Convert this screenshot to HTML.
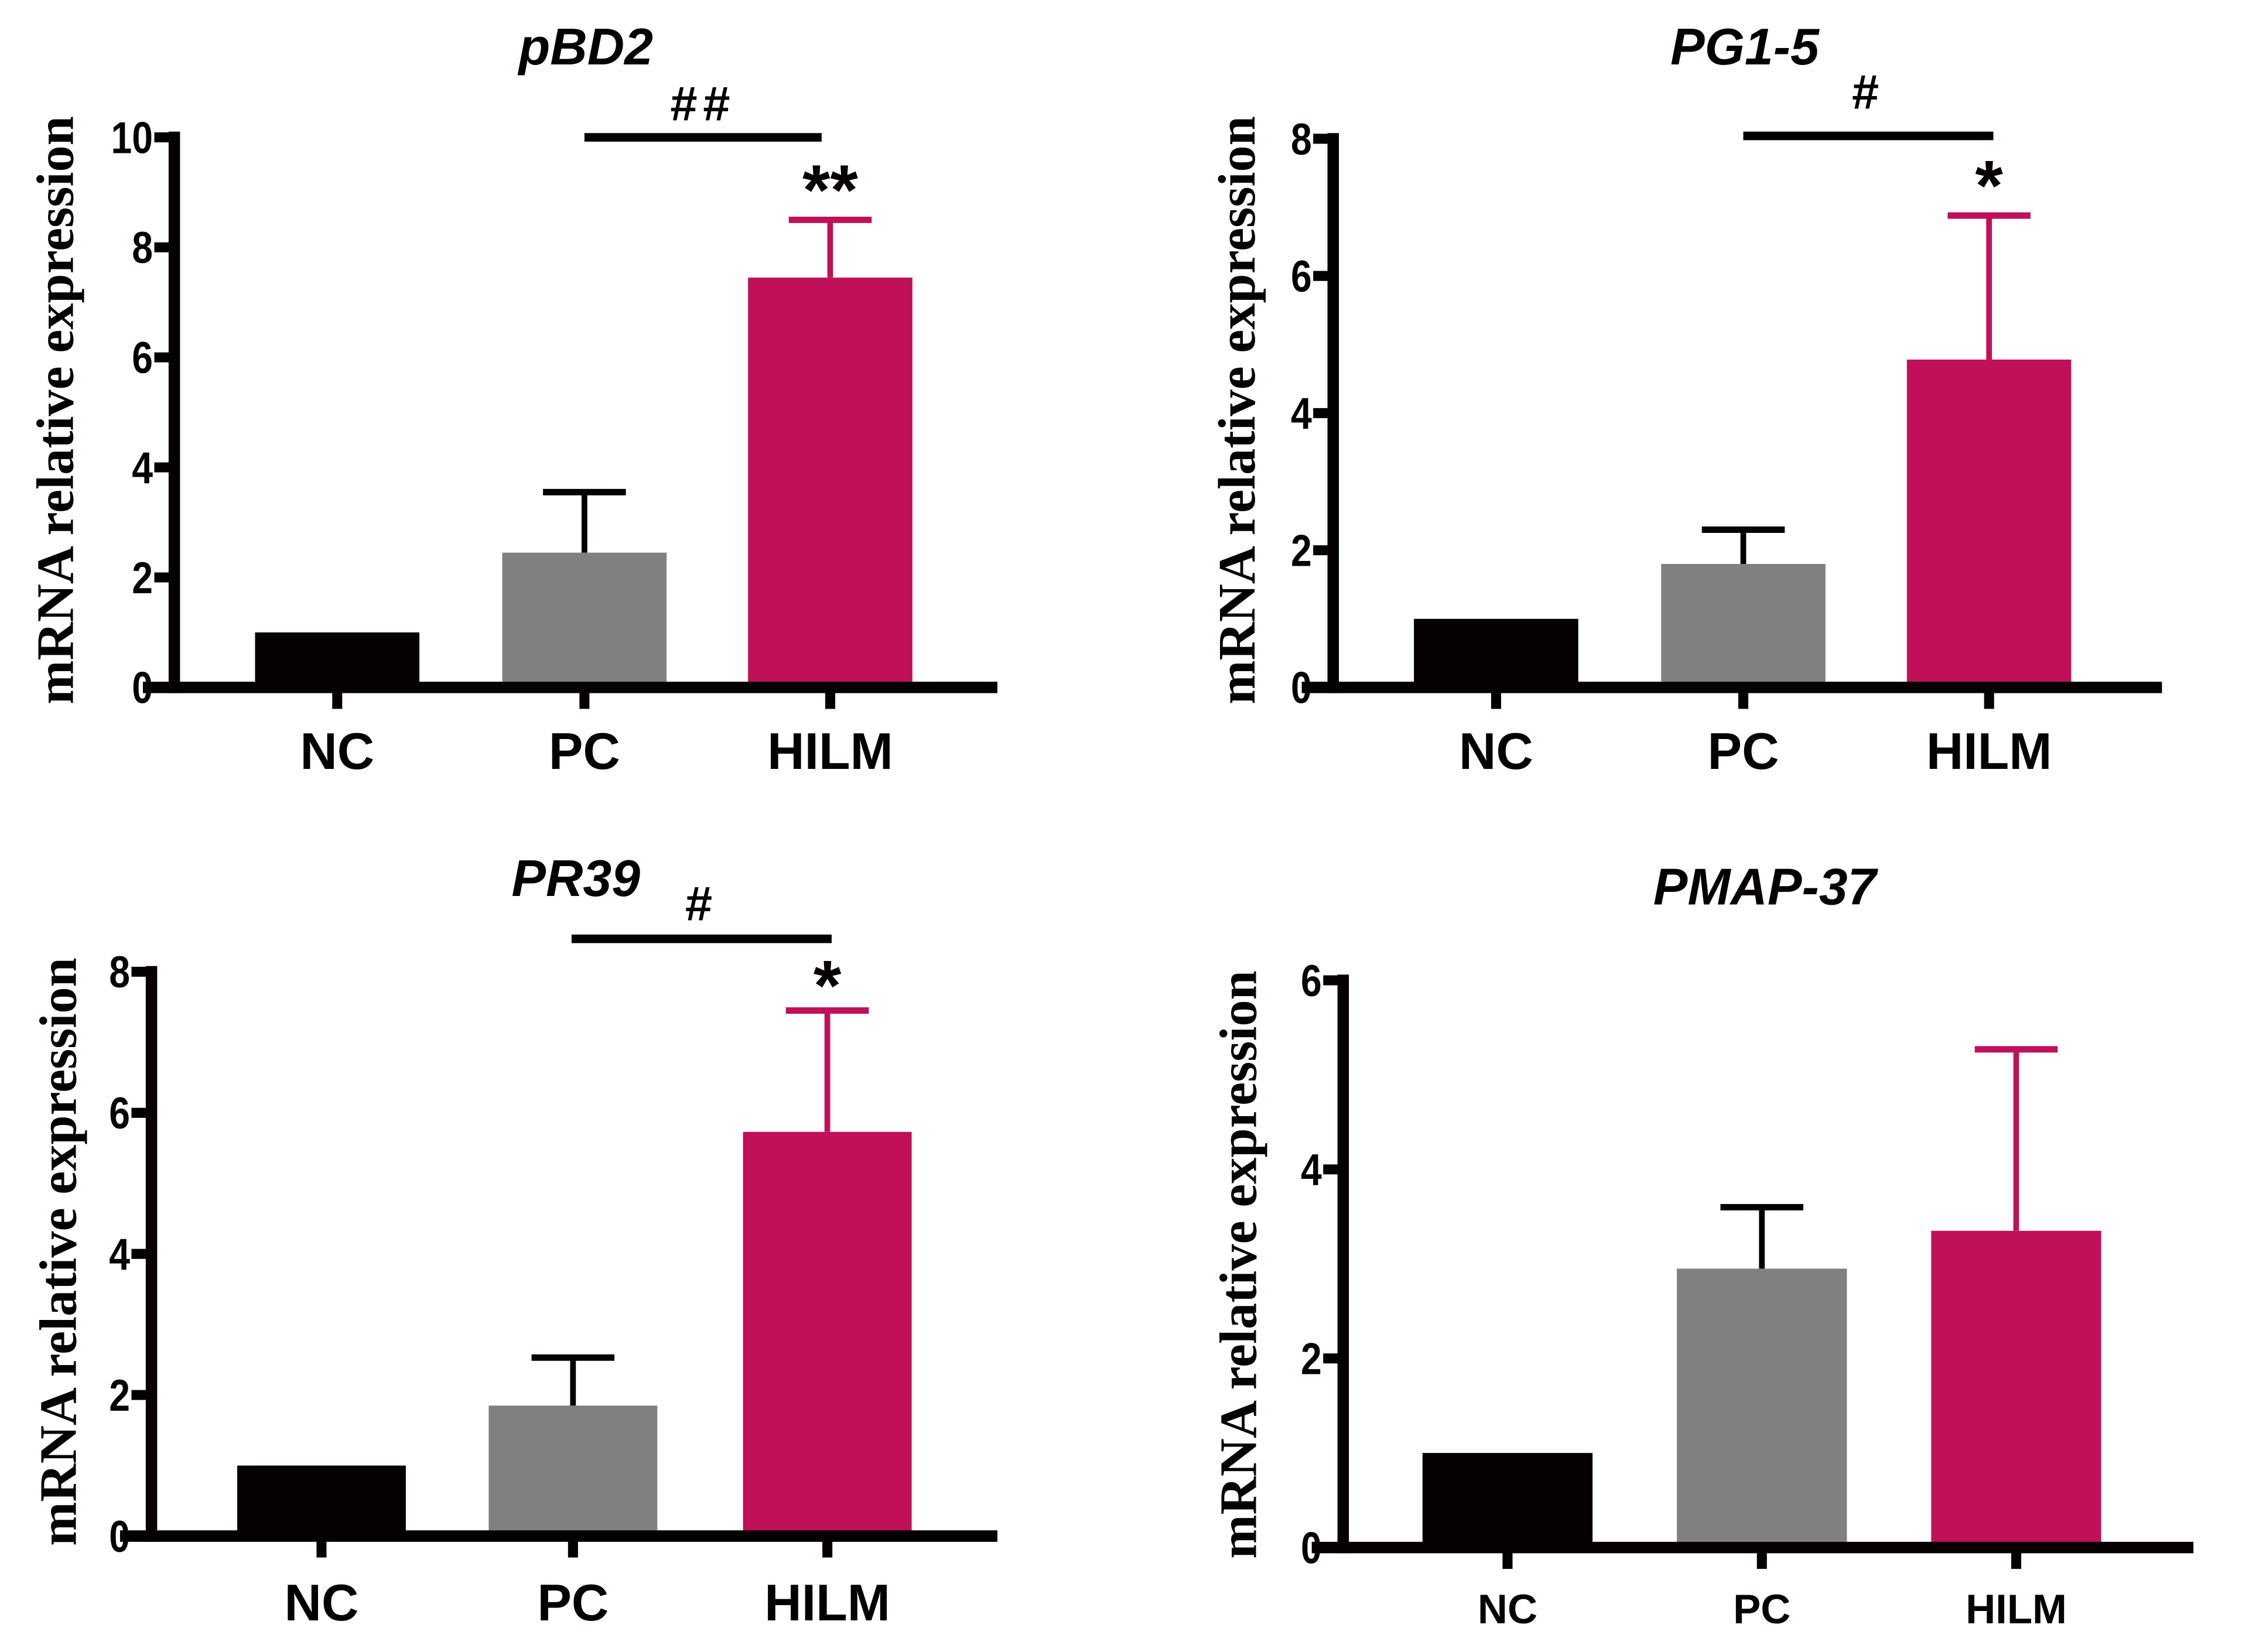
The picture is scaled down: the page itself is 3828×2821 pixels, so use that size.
<!DOCTYPE html>
<html><head><meta charset="utf-8"><style>
html,body{margin:0;padding:0;background:#fff;}
svg{display:block;}
.tick{font-family:"Liberation Sans",sans-serif;font-weight:bold;font-size:31px;}
.xl{font-family:"Liberation Sans",sans-serif;font-weight:bold;}
.yt{font-family:"Liberation Serif",serif;font-weight:bold;font-size:37px;}
.ti{font-family:"Liberation Sans",sans-serif;font-weight:bold;font-style:italic;font-size:36px;}
.sig{font-family:"Liberation Sans",sans-serif;font-weight:bold;}
</style></head><body>
<svg id="fig" width="3828" height="2821" viewBox="0 0 1569 1156" xmlns="http://www.w3.org/2000/svg"></svg>
<script>
const categories = ["NC","PC","HILM"];
const titles = ["pBD2","PG1-5","PR39","PMAP-37"];
const means_pBD2 = [1, 2.45, 7.45];
const errs_pBD2 = [0, 1.1, 1.05];
const ticks_pBD2 = [0,2,4,6,8,10];
const means_PG15 = [1, 1.8, 4.78];
const errs_PG15 = [0, 0.5, 2.1];
const ticks_PG15 = [0,2,4,6,8];
const means_PR39 = [1, 1.85, 5.73];
const errs_PR39 = [0, 0.68, 1.72];
const ticks_PR39 = [0,2,4,6,8];
const means_PMAP = [1, 2.95, 3.35];
const errs_PMAP = [0, 0.65, 1.92];
const ticks_PMAP = [0,2,4,6];
const sigStars = ["**","*","*",""];
const sigHash = ["##","#","#",""];

const colors = ["#050102","#808083","#c0105a"];
const errColors = ["#050102","#050102","#c0105a"];
const svg = document.getElementById('fig');
const NS = "http://www.w3.org/2000/svg";
function mk(tag, attrs, parent){
  const e = document.createElementNS(NS, tag);
  for (const k in attrs) e.setAttribute(k, attrs[k]);
  (parent||svg).appendChild(e);
  return e;
}
const layouts = [
  {ax:122, y0:481, ytop:96, xend:698, cx:[236,409,581], bw:115, xlY:538, xlF:36, ytX:38, ytY:287, tX:410, tY:45, brY:96, brX:[409,575], hashY:84, hashF:34, starY:150, starF:50},
  {ax:933, y0:481, ytop:97, xend:1513, cx:[1047,1220,1392], bw:115, xlY:538, xlF:36, ytX:865, ytY:287, tX:1221, tY:45, brY:95, brX:[1220,1395], hashY:76, hashF:34, starY:147, starF:50},
  {ax:106, y0:1075, ytop:680, xend:698, cx:[225,401,579], bw:118, xlY:1134, xlF:36, ytX:40, ytY:876, tX:403, tY:627, brY:657, brX:[400,582], hashY:644, hashF:34, starY:707, starF:50},
  {ax:940, y0:1083, ytop:686, xend:1535, cx:[1055,1233,1411], bw:119, xlY:1136, xlF:29, ytX:866, ytY:885, tX:1235, tY:633, brY:0, brX:null, hashY:0, hashF:34, starY:0, starF:50}
];
const allMeans = [means_pBD2, means_PG15, means_PR39, means_PMAP];
const allErrs = [errs_pBD2, errs_PG15, errs_PR39, errs_PMAP];
const allTicks = [ticks_pBD2, ticks_PG15, ticks_PR39, ticks_PMAP];

layouts.forEach((L, p) => {
  const g = mk('g', {});
  
  
  const ticks = allTicks[p];
  const ymax = ticks[ticks.length-1];
  const y = v => L.y0 - (v / ymax) * (L.y0 - L.ytop);
  const means = allMeans[p], errs = allErrs[p];
  means.forEach((m, i) => {
    const r = mk('rect', {x: L.cx[i]-L.bw/2, y: y(m), width: L.bw, height: L.y0 - y(m), fill: colors[i]}, g);
    
    
    if (errs[i] > 0) {
      const top = y(m + errs[i]);
      const e1 = mk('line', {x1: L.cx[i], x2: L.cx[i], y1: y(m), y2: top, stroke: errColors[i], 'stroke-width': 4}, g);
      
      
      const e2 = mk('line', {x1: L.cx[i]-29, x2: L.cx[i]+29, y1: top, y2: top, stroke: errColors[i], 'stroke-width': 4.5}, g);
      
      
    }
  });
  const ya = mk('line', {x1: L.ax, x2: L.ax, y1: L.ytop-4, y2: L.y0+4, stroke: '#050102', 'stroke-width': 8}, g);
  
  
  const xa = mk('line', {x1: L.ax-22, x2: L.xend, y1: L.y0, y2: L.y0, stroke: '#050102', 'stroke-width': 8}, g);
  
  
  ticks.forEach(t => {
    const tl = mk('line', {x1: L.ax-14, x2: L.ax, y1: y(t), y2: y(t), stroke: '#050102', 'stroke-width': 7}, g);
    
    
    const tx = mk('text', {x: 0, y: 0, 'text-anchor': 'end', class: 'tick', fill: '#050102', transform: 'translate(' + (L.ax-15) + ',' + (y(t)+11) + ') scale(0.85,1)'}, g);
    tx.textContent = t;
    
    
  });
  categories.forEach((c, i) => {
    const tl = mk('line', {x1: L.cx[i], x2: L.cx[i], y1: L.y0, y2: L.y0+15, stroke: '#050102', 'stroke-width': 7}, g);
    
    
    const tx = mk('text', {x: L.cx[i], y: L.xlY, 'text-anchor': 'middle', class: 'xl', 'font-size': L.xlF, fill: '#050102'}, g);
    tx.textContent = c;
    
    
  });
  const yt = mk('text', {x: 0, y: 0, 'text-anchor': 'middle', class: 'yt', fill: '#050102', transform: 'translate(' + (L.ytX+13) + ',' + L.ytY + ') rotate(-90)'}, g);
  yt.textContent = 'mRNA relative expression';
  
  
  const tt = mk('text', {x: L.tX, y: L.tY, 'text-anchor': 'middle', class: 'ti', fill: '#050102'}, g);
  tt.textContent = titles[p];
  
  
  if (L.brX) {
    const br = mk('line', {x1: L.brX[0], x2: L.brX[1], y1: L.brY, y2: L.brY, stroke: '#050102', 'stroke-width': 6}, g);
    
    
    const h = mk('text', {x: (L.brX[0]+L.brX[1])/2, y: L.hashY, 'text-anchor': 'middle', class: 'sig', 'font-size': L.hashF, 'letter-spacing': '4', fill: '#050102'}, g);
    h.textContent = sigHash[p];
    
    
    const s = mk('text', {x: L.cx[2], y: L.starY, 'text-anchor': 'middle', class: 'sig', 'font-size': L.starF, fill: '#050102'}, g);
    s.textContent = sigStars[p];
    
    
  }
});
</script>
</body></html>
